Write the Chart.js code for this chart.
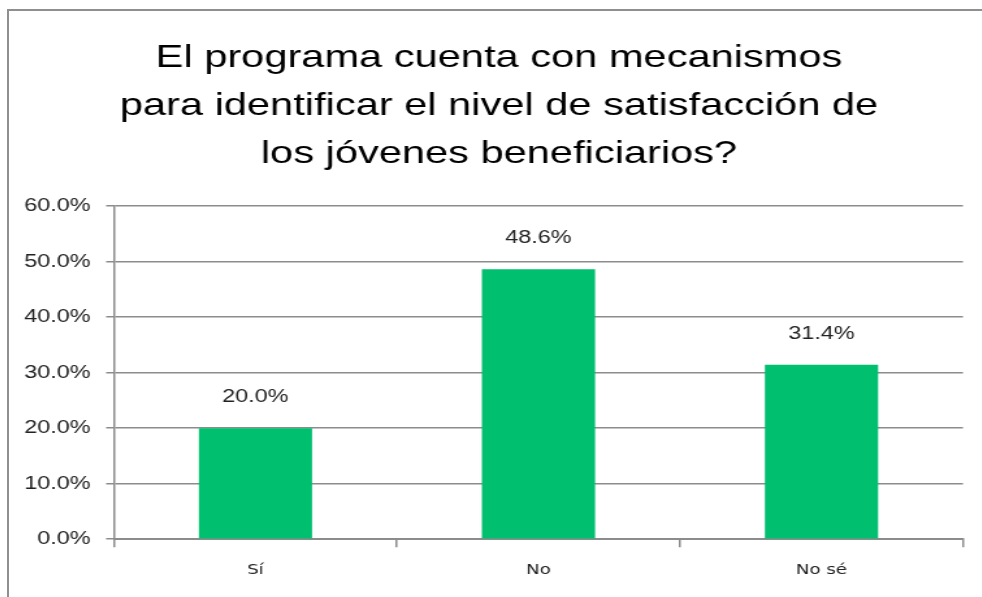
<!DOCTYPE html>
<html>
<head>
<meta charset="utf-8">
<script src="https://cdn.jsdelivr.net/npm/chart.js@4/dist/chart.umd.min.js"></script>
<style>
  html, body { margin: 0; padding: 0; background: #fff; width: 982px; height: 597px; overflow: hidden; position: relative; }
  #topline { position: absolute; left: 7px; top: 9px; width: 1100px; height: 2px; background: #8f8f8f; }
  #leftline { position: absolute; left: 7px; top: 9px; width: 2px; height: 700px; background: #8f8f8f; }
  #wrap { position: absolute; left: 8px; top: 0px; width: 755px; height: 597px; transform: scaleX(1.3); transform-origin: 0 0; }
  canvas { display: block; }
</style>
</head>
<body>
<div id="topline"></div>
<div id="leftline"></div>
<div id="wrap"><canvas id="c" width="755" height="597"></canvas></div>
<script>
const titleLines = ["El programa cuenta con mecanismos", "para identificar el nivel de satisfacción de", "los jóvenes beneficiarios?"];
const categories = ["Sí", "No", "No sé"];
const values = [20.0, 48.6, 31.4];
const yTicks = [0, 10, 20, 30, 40, 50, 60];

const barColor = "#00BF6F";
const gridColor = "#8c8c8c";
const yFont = { family: "'Liberation Sans', Arial, sans-serif", size: 18 };

const valueLabels = {
  id: "valueLabels",
  afterDatasetsDraw(chart) {
    const ctx = chart.ctx;
    const meta = chart.getDatasetMeta(0);
    ctx.save();
    ctx.font = "18px 'Liberation Sans', Arial, sans-serif";
    ctx.fillStyle = "#222";
    ctx.textAlign = "center";
    ctx.textBaseline = "middle";
    meta.data.forEach((bar, i) => {
      ctx.fillText(values[i].toFixed(1) + "%", bar.x, bar.y - 31);
    });
    ctx.restore();
  }
};

// width of the widest y label, used to place mirrored labels left of the axis
const mctx = document.createElement("canvas").getContext("2d");
mctx.font = "18px 'Liberation Sans', Arial, sans-serif";
const widestY = Math.max(...yTicks.map(v => mctx.measureText(v.toFixed(1) + "%").width));

new Chart(document.getElementById("c"), {
  type: "bar",
  data: {
    labels: categories,
    datasets: [{
      data: values,
      backgroundColor: barColor,
      borderWidth: 0,
      barPercentage: 0.4,
      categoryPercentage: 1.0
    }]
  },
  options: {
    responsive: false,
    animation: false,
    devicePixelRatio: 1,
    layout: { padding: { top: 34, left: 20.8, right: 20.4, bottom: 3 } },
    plugins: {
      legend: { display: false },
      tooltip: { enabled: false },
      title: {
        display: true,
        text: titleLines,
        color: "#000",
        font: { family: "'Liberation Sans', Arial, sans-serif", size: 32, weight: "normal", lineHeight: 1.5 },
        padding: { top: 0, bottom: 28 }
      }
    },
    scales: {
      x: {
        offset: true,
        grid: { display: true, drawOnChartArea: false, drawTicks: true, tickLength: 8, color: gridColor, lineWidth: 1.5, offset: true },
        border: { display: true, color: gridColor, width: 2 },
        ticks: { color: "#222", padding: 15, font: { family: "'DejaVu Sans', Verdana, sans-serif", size: 14 } }
      },
      y: {
        min: 0,
        max: 60,
        afterBuildTicks(scale) { scale.ticks = yTicks.map(v => ({ value: v })); },
        afterFit(scale) { scale.width = 60.7; },
        grid: { color: gridColor, lineWidth: 1.5, drawTicks: true, tickLength: 6 },
        border: { display: true, color: gridColor, width: 1.5 },
        ticks: {
          color: "#222",
          mirror: true,
          crossAlign: "far",
          padding: -(6 + 12 + widestY),
          font: yFont,
          callback: (v) => Number(v).toFixed(1) + "%"
        }
      }
    }
  },
  plugins: [valueLabels]
});
</script>
</body>
</html>
